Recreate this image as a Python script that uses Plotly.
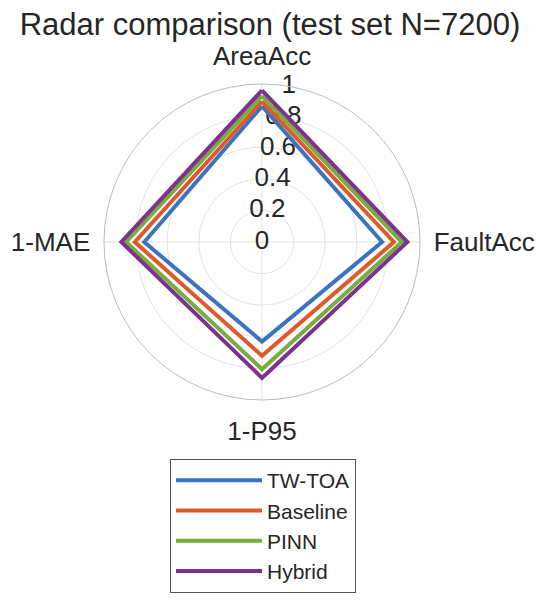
import plotly.graph_objects as go

metrics = ["AreaAcc", "FaultAcc", "1-P95", "1-MAE"]
series_names = ["TW-TOA", "Baseline", "PINN", "Hybrid"]
tw_toa = [0.86, 0.76, 0.63, 0.745]
baseline = [0.89, 0.835, 0.72, 0.805]
pinn = [0.925, 0.885, 0.805, 0.86]
hybrid = [0.96, 0.92, 0.86, 0.89]
radial_ticks = [0, 0.2, 0.4, 0.6, 0.8, 1]
radial_tick_labels = ["0", "0.2", "0.4", "0.6", "0.8", "1"]

colors = ["#3C73C0", "#E0592A", "#76AD3E", "#7D3290"]
all_values = [tw_toa, baseline, pinn, hybrid]
angles = [i * 360 / len(metrics) for i in range(len(metrics))]
label_angle = 9.7  # radial labels line, degrees clockwise from top

TXT = "#262626"
fig = go.Figure()
# radial tick labels (drawn first, beneath the lines)
fig.add_trace(go.Scatterpolar(
    r=radial_ticks, theta=[label_angle] * len(radial_ticks),
    mode="text", text=radial_tick_labels, textposition="middle center",
    textfont=dict(size=26, color=TXT), showlegend=False, hoverinfo="skip",
    cliponaxis=False,
))
for name, vals, col in zip(series_names, all_values, colors):
    fig.add_trace(go.Scatterpolar(
        r=vals + vals[:1],
        theta=angles + angles[:1],
        mode="lines",
        name=name,
        line=dict(color=col, width=4),
    ))

W, H = 550, 600
off = 8  # page body margin
cx, cy, rad = 262 - off, 242 - off, 158
fig.update_layout(
    width=W, height=H,
    margin=dict(l=0, r=0, t=0, b=0),
    paper_bgcolor="white",
    plot_bgcolor="white",
    font=dict(family="Liberation Sans, Arial, sans-serif", color=TXT),
    title=dict(text="Radar comparison (test set N=7200)", x=(270 - off) / W, xanchor="center",
               y=1 - (24 - off) / H, yanchor="middle", font=dict(size=31, color=TXT)),
    polar=dict(
        domain=dict(x=[(cx - rad) / W, (cx + rad) / W],
                    y=[(H - cy - rad) / H, (H - cy + rad) / H]),
        bgcolor="white",
        angularaxis=dict(
            type="linear", thetaunit="degrees",
            rotation=90, direction="clockwise",
            tickmode="array", tickvals=angles, ticktext=metrics,
            showline=True, linecolor="#bdbdbd", linewidth=1,
            gridcolor="#e3e3e3", gridwidth=1,
            ticks="outside", ticklen=8, tickcolor="rgba(0,0,0,0)",
            tickfont=dict(size=26, color=TXT),
        ),
        radialaxis=dict(
            range=[0, 1], tickvals=radial_ticks, showticklabels=False,
            showline=False, ticks="",
            gridcolor="#e3e3e3", gridwidth=1,
        ),
    ),
    showlegend=True,
    legend=dict(
        x=(263 - off) / W, xanchor="center", y=1 - (459 - off) / H, yanchor="top",
        bordercolor="#555", borderwidth=1, bgcolor="white",
        font=dict(size=21, color=TXT), itemwidth=86,
    ),
)

fig.write_html("out.html")
